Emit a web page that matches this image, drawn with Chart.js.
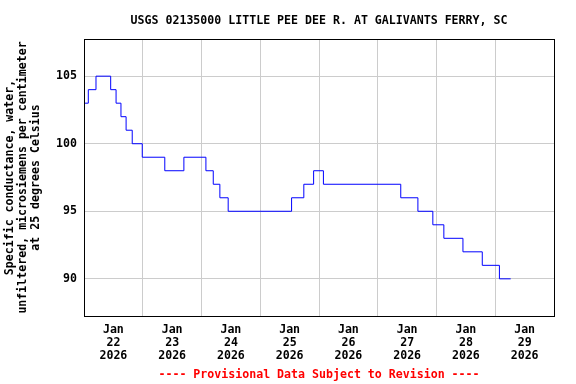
<!DOCTYPE html>
<html>
<head>
<meta charset="utf-8">
<script src="https://cdn.jsdelivr.net/npm/chart.js@4.4.1/dist/chart.umd.min.js"></script>
<style>
html,body{margin:0;padding:0;background:#fff;}
canvas{display:block;}
</style>
</head>
<body>
<canvas id="c" width="576" height="384"></canvas>
<script>
// ---- data (hours since Jan 22 2026 00:00, value in uS/cm) ----
const hours = [0, 1.76, 4.9, 10.9, 13.1, 15.1, 17.2, 19.7, 23.8, 33.0, 40.8, 49.8, 52.8, 55.5, 58.9, 84.8, 89.8, 93.8, 97.8, 129.4, 136.4, 142.5, 147.0, 154.8, 162.7, 169.7, 174.3];
const values = [103, 104, 105, 104, 103, 102, 101, 100, 99, 98, 99, 98, 97, 96, 95, 96, 97, 98, 97, 96, 95, 94, 93, 92, 91, 90, 90];
const monthLabel = 'Jan';
const dayLabels = ['22', '23', '24', '25', '26', '27', '28', '29'];
const yearLabel = '2026';
const yTicks = [90, 95, 100, 105];
const titleText = 'USGS 02135000 LITTLE PEE DEE R. AT GALIVANTS FERRY, SC';
const yTitle = ['Specific conductance, water,', 'unfiltered, microsiemens per centimeter', 'at 25 degrees Celsius'];
const footerText = '---- Provisional Data Subject to Revision ----';

const FONT = '"DejaVu Sans Mono", "Liberation Mono", monospace';
const points = hours.map((h, i) => ({x: h, y: values[i]}));

const textPlugin = {
  id: 'texts',
  afterDraw(chart) {
    const {ctx, chartArea: a} = chart;
    ctx.save();
    ctx.strokeStyle = '#000';
    ctx.lineWidth = 1;
    ctx.strokeRect(a.left + 0.5, a.top + 0.5, a.right - a.left, a.bottom - a.top);
    const cx = (a.left + a.right) / 2;
    ctx.font = 'bold 11.6px ' + FONT;
    ctx.textAlign = 'center';
    ctx.textBaseline = 'middle';
    ctx.fillStyle = '#000';
    ctx.fillText(titleText, cx, 20.5);
    ctx.fillStyle = '#ff0000';
    ctx.fillText(footerText, cx, 374.5);
    ctx.restore();
  }
};

new Chart(document.getElementById('c'), {
  type: 'line',
  data: {
    datasets: [{
      data: points,
      borderColor: '#0000ff',
      borderWidth: 1,
      pointRadius: 0,
      stepped: 'before',
      fill: false
    }]
  },
  options: {
    responsive: false,
    animation: false,
    devicePixelRatio: 1,
    layout: {padding: {top: 39, right: 22, bottom: 0, left: 0}},
    plugins: {legend: {display: false}, tooltip: {enabled: false}, title: {display: false}},
    scales: {
      x: {
        type: 'linear',
        min: 0,
        max: 192,
        afterBuildTicks(scale) {
          const t = [];
          for (let i = 0; i <= dayLabels.length * 2; i++) t.push({value: i * 12});
          scale.ticks = t;
        },
        afterFit(scale) { scale.height = 68; },
        grid: {
          drawTicks: false,
          lineWidth: 1,
          color: (c) => {
            const v = c.tick ? c.tick.value : 0;
            return (v % 24 === 0 && v > 0 && v < 192) ? '#cccccc' : 'rgba(0,0,0,0)';
          }
        },
        border: {display: false},
        ticks: {
          autoSkip: false,
          maxRotation: 0,
          padding: 7.5,
          color: '#000',
          font: {family: FONT, size: 11.6, weight: 'bold', lineHeight: '13px'},
          callback: (v) => (v % 24 === 12) ? [monthLabel, dayLabels[(v - 12) / 24], yearLabel] : ''
        }
      },
      y: {
        type: 'linear',
        min: 87.25,
        max: 107.75,
        afterBuildTicks(scale) { scale.ticks = yTicks.map(v => ({value: v})); },
        afterFit(scale) { scale.width = 84; },
        grid: {drawTicks: false, color: '#cccccc', lineWidth: 1},
        border: {display: false},
        ticks: {
          padding: 7,
          color: '#000',
          font: {family: FONT, size: 11.6, weight: 'bold'}
        },
        title: {
          display: true,
          text: yTitle,
          color: '#000',
          padding: {top: 3.5, bottom: 0},
          font: {family: FONT, size: 11.6, weight: 'bold', lineHeight: '13px'}
        }
      }
    }
  },
  plugins: [textPlugin]
});
</script>
</body>
</html>
